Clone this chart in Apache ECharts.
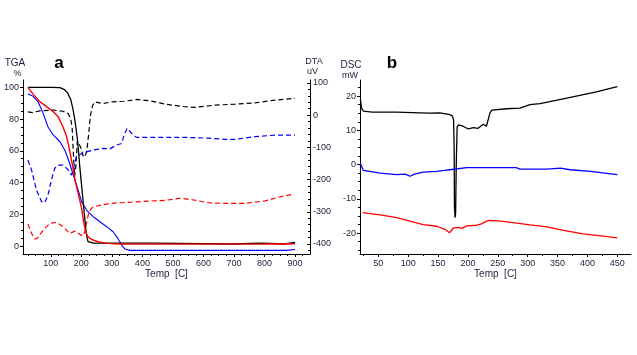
<!DOCTYPE html>
<html>
<head>
<meta charset="utf-8">
<script src="https://cdn.jsdelivr.net/npm/echarts@6/dist/echarts.min.js"></script>
<style>
html,body{margin:0;padding:0;background:#fff;}
#c{width:637px;height:355px;}
</style>
</head>
<body>
<div id="c"></div>
<script>
// ---------- Panel a : TGA (left axis, %) and DTA (right axis, uV) ----------
const tgaBlackT = [25, 60, 100, 130, 145, 155, 165, 173, 180, 188, 195, 202, 208, 214, 218, 222, 228, 240, 260, 300, 430, 435, 695, 700, 790, 795, 865, 870, 900];
const tgaBlack  = [100, 100, 100, 99.8, 98.5, 96.5, 92.5, 86, 78, 66, 50, 36, 24, 12, 6, 2.8, 2.2, 1.9, 1.8, 1.8, 1.8, 1.3, 1.3, 1.8, 1.8, 1.3, 1.3, 2.3, 2.3];

const tgaRedT = [25, 41, 64, 86, 108, 124, 140, 150, 157, 163, 168, 174, 179, 185, 190, 196, 201, 206, 211, 216, 222, 233, 255, 283, 326, 500, 800, 900];
const tgaRed  = [100, 96, 91, 87.8, 84.6, 81.5, 75, 70, 64.7, 59, 54, 48, 41.6, 37, 33, 28, 23.7, 17, 12, 8, 5.9, 4.2, 2.7, 1.7, 1.3, 1.2, 1.3, 1.5];

const tgaBlueT = [25, 41, 58, 75, 91, 108, 130, 146, 162, 179, 190, 201, 217, 239, 261, 283, 304, 320, 332, 343, 359, 600, 870, 875, 900];
const tgaBlue  = [95.8, 94.5, 91, 83.6, 75, 70, 65.7, 60.5, 52, 41.6, 35, 28, 22.7, 18.5, 15.3, 12.2, 9, 4.8, 0.6, -1.9, -2.7, -2.7, -2.7, -2.2, -2.2];

const dtaBlackT = [25, 40, 63, 108, 140, 157, 165, 170, 174, 178, 182, 187, 192, 198, 205, 212, 218, 224, 230, 237, 244, 270, 300, 340, 381, 420, 457, 474, 539, 572, 638, 703, 769, 834, 894, 900];
const dtaBlack  = [10, 8, 13, 15.5, 12, 5, -10, -40, -120, -190, -160, -80, -75, -100, -125, -130, -110, -60, 0, 30, 41, 36, 41, 43, 48.6, 45, 38, 34, 26, 24, 31, 34, 38, 46.5, 52, 52];

const dtaBlueT = [25, 37, 53, 70, 80, 91, 102, 113, 124, 140, 157, 168, 176, 184, 200, 217, 239, 272, 293, 315, 332, 340, 350, 365, 381, 479, 540, 600, 670, 703, 769, 834, 900];
const dtaBlue  = [-139.5, -170, -232.6, -268.7, -272, -248, -201.6, -165, -155, -155, -170, -186, -160, -129, -120, -114, -108.5, -103, -105, -93, -88, -62, -41, -57, -69, -69, -69, -71, -75, -75, -67, -62, -62];

const dtaRedT = [25, 37, 48, 58, 75, 97, 119, 140, 162, 179, 195, 205, 212, 218, 224, 233, 250, 293, 326, 381, 479, 523, 572, 616, 670, 736, 802, 845, 890];
const dtaRed  = [-338, -367, -385, -380, -357, -336, -333, -346, -367, -360, -370, -375, -360, -330, -305, -289, -282, -274, -272, -269, -264, -258, -264, -272, -274, -274, -266, -255, -246];

// ---------- Panel b : DSC (mW) ----------
const dscBlackT = [20, 22, 25, 40, 81, 120, 136.5, 153, 170, 174, 176, 177, 177.5, 178.5, 179.5, 180.5, 182, 184, 187, 192, 200.6, 209, 217, 225.7, 231, 234, 237, 240, 265, 287, 304, 320.6, 359.6, 415, 450];
const dscBlack  = [19, 16.5, 15.6, 15.3, 15.3, 15.1, 15, 15.1, 14.6, 14.2, 13, 5, -12.5, -15.5, -14, 0, 11, 11.6, 12.1, 11.2, 10.4, 10.8, 10.6, 11.8, 11.2, 11.2, 15.1, 15.9, 16.3, 16.5, 17.5, 17.8, 19.2, 21.2, 22.8];

const dscBlueT = [20, 25, 53, 81, 95, 103, 111, 125, 148, 161, 170, 198, 203, 248, 281, 287, 304, 332, 355, 371, 405, 450];
const dscBlue  = [0.3, -1.7, -2.5, -2.9, -2.8, -3.4, -2.8, -2.2, -2.0, -1.7, -1.5, -0.9, -0.9, -0.9, -0.9, -1.3, -1.3, -1.3, -1.0, -1.5, -2.0, -2.9];

const dscRedT = [24, 53, 81, 103, 125, 148, 161.6, 169, 176, 184, 190, 198, 214.6, 223, 231, 237, 259, 304, 332, 360, 393, 426, 450];
const dscRed  = [-14, -14.7, -15.5, -16.5, -17.5, -18, -18.9, -19.9, -18.5, -18.3, -18.6, -17.9, -17.7, -17.3, -16.5, -16.3, -16.6, -17.6, -18.2, -19.2, -20.2, -20.9, -21.4];

// ---------- Tick labels ----------
const xTicksA   = [100, 200, 300, 400, 500, 600, 700, 800, 900];
const tgaTicks  = [0, 20, 40, 60, 80, 100];
const dtaTicks  = [-400, -300, -200, -100, 0, 100];
const xTicksB   = [50, 100, 150, 200, 250, 300, 350, 400, 450];
const dscTicks  = [-20, -10, 0, 10, 20];

function zip(xs, ys) { return xs.map((x, i) => [x, ys[i]]); }
function range(a, b, s) { const r = []; for (let v = a; v <= b + 1e-9; v += s) r.push(+v.toFixed(3)); return r; }

const FONT = '"Liberation Sans", Arial, sans-serif';
const LBL = { fontFamily: FONT, fontSize: 9, color: '#1e1e3c' };
const BLACK = '#000000', RED = '#ff0000', BLUE = '#0000ff';

// axis ranges (data units at plot edges)
const A_X = [9, 949], A_TGA = [-5, 104.6], A_DTA = [-431, 109];
const B_X = [19.4, 473], B_DSC = [-26.1, 24.7];

function mainAxis(o) {
  return Object.assign({
    type: 'value',
    axisLine: { show: true, onZero: false, lineStyle: { color: '#000', width: 1 } },
    splitLine: { show: false },
  }, o);
}
function minorAxis(o, vals, inside) {
  return Object.assign({
    type: 'value',
    axisLine: { show: false, onZero: false },
    axisLabel: { show: false },
    splitLine: { show: false },
    axisTick: { show: true, inside: inside, length: 2, customValues: vals, lineStyle: { color: '#000', width: 1 } },
  }, o);
}

const chart = echarts.init(document.getElementById('c'), null, { renderer: 'canvas' });
chart.setOption({
  animation: false,
  backgroundColor: '#ffffff',
  grid: [
    { left: 23, top: 80, width: 287, height: 174 },
    { left: 360, top: 80, width: 271, height: 174 }
  ],
  xAxis: [
    mainAxis({ gridIndex: 0, position: 'bottom', min: A_X[0], max: A_X[1],
      name: 'Temp  [C]', nameLocation: 'middle', nameGap: 14,
      nameTextStyle: { fontFamily: FONT, fontSize: 10, color: '#1e1e3c' },
      axisTick: { show: true, length: 3, customValues: xTicksA, lineStyle: { color: '#000' } },
      axisLabel: Object.assign({ customValues: xTicksA, margin: 5 }, LBL) }),
    mainAxis({ gridIndex: 1, position: 'bottom', min: B_X[0], max: B_X[1],
      name: 'Temp  [C]', nameLocation: 'middle', nameGap: 14,
      nameTextStyle: { fontFamily: FONT, fontSize: 10, color: '#1e1e3c' },
      axisTick: { show: true, length: 3, customValues: xTicksB, lineStyle: { color: '#000' } },
      axisLabel: Object.assign({ customValues: xTicksB, margin: 5 }, LBL) }),
    minorAxis({ gridIndex: 0, position: 'bottom', min: A_X[0], max: A_X[1] }, range(25, 925, 25), false),
    minorAxis({ gridIndex: 1, position: 'bottom', min: B_X[0], max: B_X[1] }, range(25, 475, 25), false)
  ],
  yAxis: [
    mainAxis({ gridIndex: 0, position: 'left', min: A_TGA[0], max: A_TGA[1],
      axisTick: { show: true, length: 3, customValues: tgaTicks, lineStyle: { color: '#000' } },
      axisLabel: Object.assign({ customValues: tgaTicks, margin: 4 }, LBL) }),
    mainAxis({ gridIndex: 0, position: 'right', min: A_DTA[0], max: A_DTA[1],
      axisTick: { show: true, inside: true, length: 3, customValues: dtaTicks, lineStyle: { color: '#000' } },
      axisLabel: Object.assign({ customValues: dtaTicks, margin: 3 }, LBL) }),
    mainAxis({ gridIndex: 1, position: 'left', min: B_DSC[0], max: B_DSC[1],
      axisTick: { show: true, length: 3, customValues: dscTicks, lineStyle: { color: '#000' } },
      axisLabel: Object.assign({ customValues: dscTicks, margin: 4 }, LBL) }),
    minorAxis({ gridIndex: 0, position: 'left', min: A_TGA[0], max: A_TGA[1] }, range(0, 100, 5), false),
    minorAxis({ gridIndex: 0, position: 'right', min: A_DTA[0], max: A_DTA[1] }, range(-420, 100, 20), true),
    minorAxis({ gridIndex: 1, position: 'left', min: B_DSC[0], max: B_DSC[1] }, range(-25, 22.5, 2.5), false)
  ],
  series: [
    { type: 'line', xAxisIndex: 0, yAxisIndex: 1, data: zip(dtaBlackT, dtaBlack), showSymbol: false, lineStyle: { color: BLACK, width: 1.2, type: [5, 3] } },
    { type: 'line', xAxisIndex: 0, yAxisIndex: 1, data: zip(dtaBlueT, dtaBlue), showSymbol: false, lineStyle: { color: BLUE, width: 1.2, type: [5, 3] } },
    { type: 'line', xAxisIndex: 0, yAxisIndex: 1, data: zip(dtaRedT, dtaRed), showSymbol: false, lineStyle: { color: RED, width: 1.2, type: [5, 3] } },
    { type: 'line', xAxisIndex: 0, yAxisIndex: 0, data: zip(tgaBlueT, tgaBlue), showSymbol: false, lineStyle: { color: BLUE, width: 1.1 } },
    { type: 'line', xAxisIndex: 0, yAxisIndex: 0, data: zip(tgaBlackT, tgaBlack), showSymbol: false, lineStyle: { color: BLACK, width: 1.3 } },
    { type: 'line', xAxisIndex: 0, yAxisIndex: 0, data: zip(tgaRedT, tgaRed), showSymbol: false, lineStyle: { color: RED, width: 1.4 } },
    { type: 'line', xAxisIndex: 1, yAxisIndex: 2, data: zip(dscBlackT, dscBlack), showSymbol: false, lineStyle: { color: BLACK, width: 1.3 } },
    { type: 'line', xAxisIndex: 1, yAxisIndex: 2, data: zip(dscBlueT, dscBlue), showSymbol: false, lineStyle: { color: BLUE, width: 1.3 } },
    { type: 'line', xAxisIndex: 1, yAxisIndex: 2, data: zip(dscRedT, dscRed), showSymbol: false, lineStyle: { color: RED, width: 1.3 } }
  ],
  graphic: [
    { type: 'text', x: 15, y: 63.5, style: { text: 'TGA', font: '10px ' + FONT, fill: '#1e1e3c', align: 'center', verticalAlign: 'middle' } },
    { type: 'text', x: 17.5, y: 73.5, style: { text: '%', font: '9px ' + FONT, fill: '#1e1e3c', align: 'center', verticalAlign: 'middle' } },
    { type: 'text', x: 59, y: 63.5, style: { text: 'a', font: 'bold 17px ' + FONT, fill: '#000', align: 'center', verticalAlign: 'middle' } },
    { type: 'text', x: 314, y: 62, style: { text: 'DTA', font: '9px ' + FONT, fill: '#1e1e3c', align: 'center', verticalAlign: 'middle' } },
    { type: 'text', x: 312.5, y: 71.5, style: { text: 'uV', font: '9px ' + FONT, fill: '#1e1e3c', align: 'center', verticalAlign: 'middle' } },
    { type: 'text', x: 351, y: 65.5, style: { text: 'DSC', font: '10px ' + FONT, fill: '#1e1e3c', align: 'center', verticalAlign: 'middle' } },
    { type: 'text', x: 350, y: 76, style: { text: 'mW', font: '9px ' + FONT, fill: '#1e1e3c', align: 'center', verticalAlign: 'middle' } },
    { type: 'text', x: 392, y: 63.5, style: { text: 'b', font: 'bold 17px ' + FONT, fill: '#000', align: 'center', verticalAlign: 'middle' } }
  ]
});
</script>
</body>
</html>
